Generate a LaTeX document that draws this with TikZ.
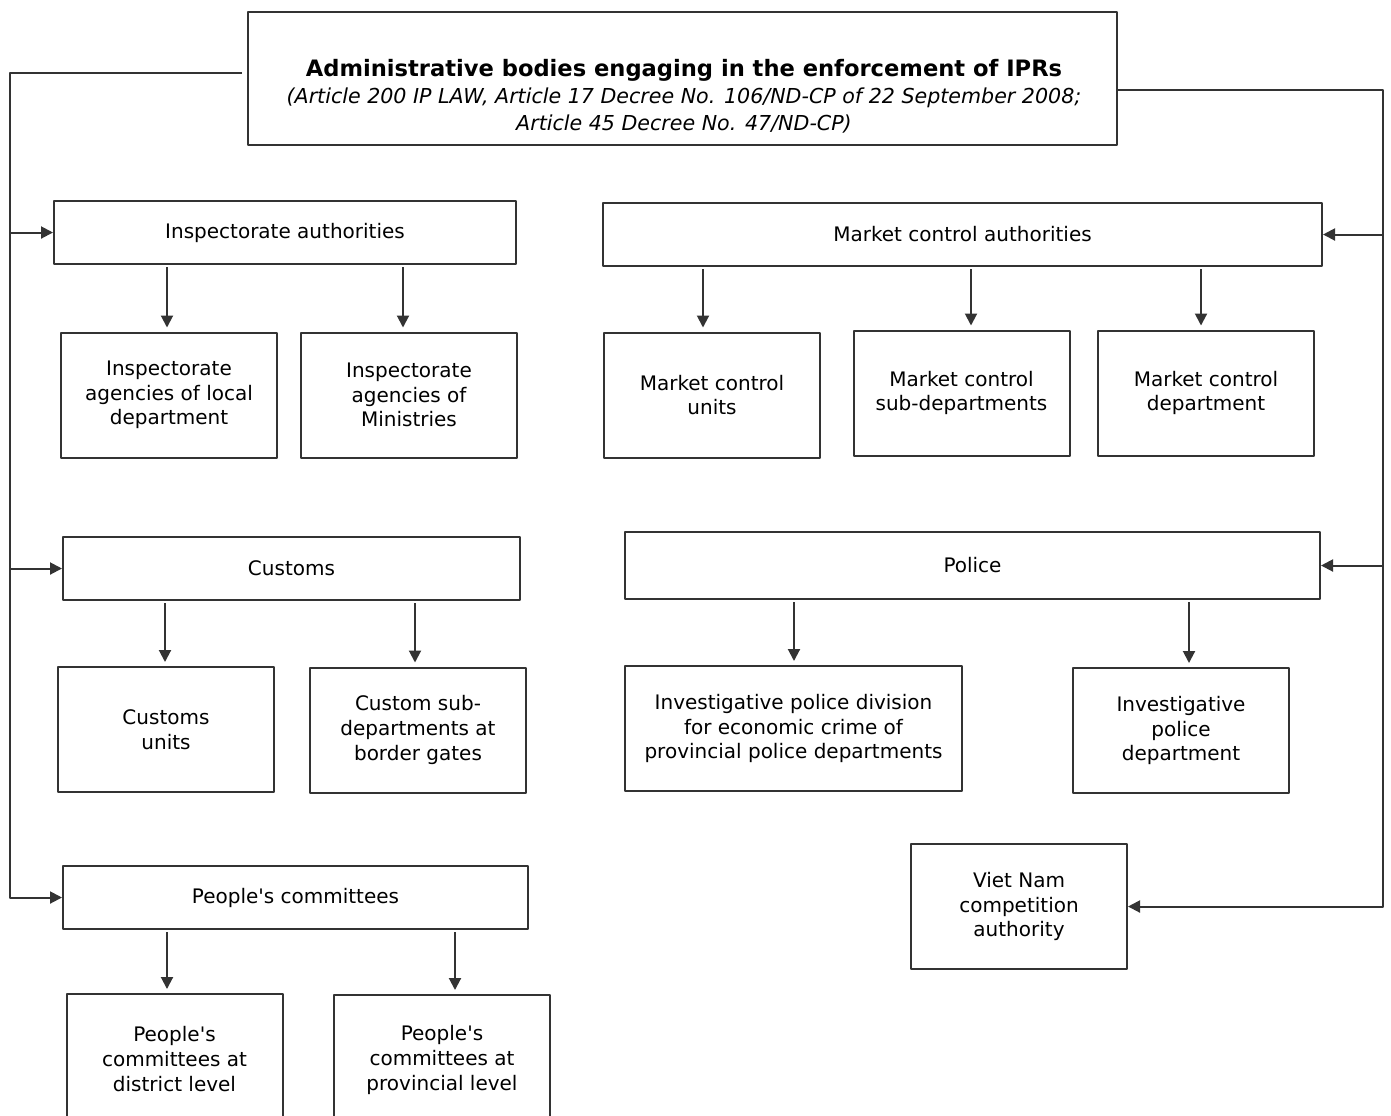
\documentclass[tikz,border=0pt]{standalone}
\usepackage{fontspec}
\setmainfont{DejaVu Sans}
\usetikzlibrary{arrows.meta}
\tikzset{
  unit/.style={draw=black!80, line width=1pt, align=center, inner sep=0pt,
    font=\fontsize{10}{12.3}\selectfont},
  wide/.style={unit, minimum height=31.5pt},
  leaf/.style={unit, minimum width=108pt, minimum height=62.5pt},
  feed/.style={draw=black!80, line width=1pt, ->},
}

\begin{document}
\begin{tikzpicture}[x=0.5pt, y=-0.5pt, line join=round, >={Triangle[length=6pt,width=6pt]}]
\clip (0,0) rectangle (1391,1115);
% head box
\node[unit, minimum width=434.5pt, minimum height=66.5pt] (top) at (682.5,78.5) {};
\node[align=center, font=\fontsize{10.3}{13.5}\selectfont] (toptxt) at (684,96)
  {{\fontsize{11.3}{13.5}\selectfont\bfseries Administrative bodies engaging in the enforcement of IPRs}\\
   {\itshape (Article 200 IP LAW, Article 17 Decree No. 106/ND-CP of 22 September 2008;}\\
   {\itshape Article 45 Decree No. 47/ND-CP)}};
% left column
\node[wide, minimum width=231pt] (ia) at (285,232.5) {Inspectorate authorities};
\node[leaf] (il) at (169,395) {Inspectorate\\agencies of local\\department};
\node[leaf] (im) at (409,395) {Inspectorate\\agencies of\\Ministries};
\node[wide, minimum width=228.5pt] (cu) at (291.5,568.5) {Customs};
\node[leaf] (cun) at (166,729.5) {Customs\\units};
\node[leaf] (csd) at (418,730) {Custom sub-\\departments at\\border gates};
\node[wide, minimum width=232.5pt] (pc) at (295.5,897.5) {People\textquotesingle s committees};
\node[leaf, minimum height=65pt] (pd) at (174.5,1059) {People\textquotesingle s\\committees at\\district level};
\node[leaf, minimum height=65pt] (pp) at (442,1060) {People\textquotesingle s\\committees at\\provincial level};
% right column
\node[wide, minimum width=359.5pt] (ma) at (962.5,234.5) {Market control authorities};
\node[leaf] (mu) at (712,395) {Market control\\units};
\node[leaf] (ms) at (961.5,393) {Market control\\sub-departments};
\node[leaf] (md) at (1206,393) {Market control\\department};
\node[wide, minimum width=347.5pt, minimum height=33.5pt] (po) at (972.5,565.5) {Police};
\node[leaf, minimum width=168.5pt] (pdv) at (793.5,728.5) {Investigative police division\\for economic crime of\\provincial police departments};
\node[leaf] (pdp) at (1181,730.5) {Investigative\\police\\department};
\node[leaf] (vn) at (1019,906.5) {Viet Nam\\competition\\authority};
% buses
\coordinate (lbus) at (10,500);
\coordinate (rbus) at (1383,500);
\draw[feed] ([yshift=2.75pt,xshift=-2.5pt]top.west) -| (lbus) |- (pc.west);
\draw[feed] (ia.west -| lbus) -- (ia.west);
\draw[feed] (cu.west -| lbus) -- (cu.west);
\draw[feed] ([yshift=-5.75pt]top.east) -| (rbus) |- (vn.east);
\draw[feed] (ma.east -| rbus) -- (ma.east);
\draw[feed] (po.east -| rbus) -- (po.east);
% parent to child
\foreach \p/\c/\s in {ia/il/-1, ia/im/-3, ma/mu/-4.5, ma/ms/4.75, ma/md/-2.5,
    cu/cun/-0.5, cu/csd/-1.5, po/pdv/0.25, po/pdp/4, pc/pd/-3.75, pc/pp/6.5}
  \draw[feed, shorten <=1pt, shorten >=2pt] ([xshift=\s pt]\p.south -| \c.north) -- ([xshift=\s pt]\c.north);
\end{tikzpicture}
\end{document}
